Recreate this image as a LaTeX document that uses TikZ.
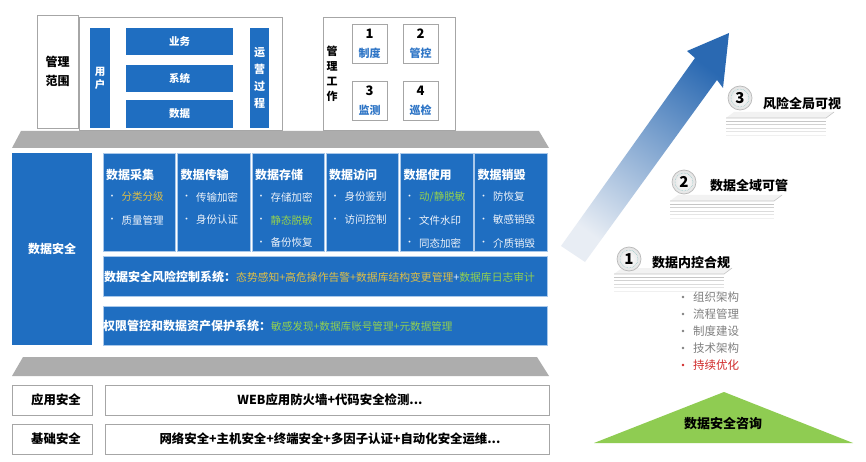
\documentclass[tikz,border=0pt]{standalone}
\usepackage{fontspec}
\setmainfont{Noto Sans CJK SC}
\usetikzlibrary{shadings}
\definecolor{mblue}{HTML}{1F6EC1}
\definecolor{lblue}{HTML}{A9C8EA}
\definecolor{bgrey}{HTML}{A6A6A6}
\definecolor{tgrey}{HTML}{ADADAD}
\definecolor{tblue}{HTML}{2E75C6}
\definecolor{iyellow}{HTML}{DDBE48}
\definecolor{igreen}{HTML}{92D050}
\definecolor{iwhite}{HTML}{EEF3FA}
\definecolor{aB}{HTML}{2A69B2}
\definecolor{aM}{HTML}{86A6D0}
\definecolor{aL}{HTML}{E8EDF4}
\definecolor{lgrey}{HTML}{808080}
\definecolor{lred}{HTML}{D02828}
\definecolor{tgreen}{HTML}{8FCC52}
\newcommand\dscol[3]{%
  \node[colbox] (#1) at (#2+36.25,202) {};
  \node[coltitle] (#1t) at (#2+3,174.5) {#3};
}
\newcommand\dsitem[5]{%
  \node[bul] (#1b) at (#2+9,#3) {·};
  \node[item,text=#4] (#1) at (#2+18.5,#3) {#5};
}
\newcommand\stepplate[3]{%
  \fill[gray!10] (#1,#2+6) -- (#1+8,#2) -- (#1+#3,#2) -- (#1+#3-8,#2+6) -- cycle;
  \draw[gray!45, line width=0.6pt] (#1,#2+6) -- (#1+#3-8,#2+6) -- (#1+#3,#2);
  \foreach \k/\o in {1/45,2/35,3/28,4/20,5/12} {
    \draw[gray!\o, line width=0.9pt] (#1,#2+6+3.4*\k) -- (#1+#3-8,#2+6+3.4*\k);
  }
}
\begin{document}
\begin{tikzpicture}[x=1pt,y=-1pt,
  bluebar/.style={fill=mblue, draw=none, inner sep=0pt, outer sep=0pt, text=white, align=center, font=\bfseries\fontsize{10.5}{13}\selectfont},
  wbox/.style={fill=white, draw=bgrey, line width=0.9pt, inner sep=0pt, outer sep=0pt, align=center},
  colbox/.style={fill=mblue, draw=lblue, line width=0.7pt, inner sep=0pt, minimum width=72.5pt, minimum height=98pt},
  coltitle/.style={anchor=west, inner sep=0pt, text=white, font=\bfseries\fontsize{12}{14}\selectfont},
  item/.style={anchor=west, inner sep=0pt, font=\fontsize{10.5}{12}\selectfont},
  bul/.style={inner sep=0pt, text=iwhite, font=\fontsize{9}{10}\selectfont},
  rowbox/.style={fill=mblue, draw=lblue, line width=0.7pt, inner sep=0pt, minimum width=444pt},
  badge/.style={circle, minimum size=24pt, inner sep=0pt, draw=gray!55, line width=0.7pt, inner color=white, outer color=gray!22, font=\bfseries\fontsize{15}{16}\selectfont},
  steplabel/.style={anchor=west, inner sep=0pt, font=\bfseries\fontsize{13}{15}\selectfont},
  listitem/.style={anchor=west, inner sep=0pt, text=lgrey, font=\fontsize{11.5}{13}\selectfont},
  boldtxt/.style={font=\bfseries\fontsize{12.4}{14}\selectfont}
]
\useasboundingbox (0,0) rectangle (866,462);
\fill[white] (0,0) rectangle (866,462);

% ---------- top: management scope ----------
\node[wbox, minimum width=41pt, minimum height=113pt, font=\bfseries\fontsize{12}{19}\selectfont] (scope) at (57.5,71.5) {管理\\范围};
\node[wbox, minimum width=203pt, minimum height=113pt] (frame) at (180.5,73.5) {};
\node[bluebar, minimum width=20pt, minimum height=100pt] (user) at (100,78) {用\\户};
\node[bluebar, minimum width=107pt, minimum height=27pt] (biz) at (179.5,41.5) {业务};
\node[bluebar, minimum width=107pt, minimum height=27pt] (sys) at (179.5,79) {系统};
\node[bluebar, minimum width=107pt, minimum height=28pt] (dat) at (179.5,114) {数据};
\node[bluebar, minimum width=19pt, minimum height=100pt, font=\bfseries\fontsize{11}{17}\selectfont] (ops) at (259.5,78) {运\\营\\过\\程};

% ---------- top: management work ----------
\node[wbox, minimum width=132pt, minimum height=113pt] (work) at (389,73.5) {};
\node[inner sep=0pt, align=center, font=\bfseries\fontsize{11}{15}\selectfont] (worklbl) at (332,74) {管\\理\\工\\作};
\foreach \n/\cx/\cy/\t in {1/369.5/43.5/制度, 2/420.5/43.5/管控, 3/369.5/100.5/监测, 4/420.5/100.5/巡检}{
  \fill[gray!25] (\cx-16.5,\cy-18.5) rectangle (\cx+18.5,\cy+20.5);
  \node[wbox, minimum width=35pt, minimum height=39pt] (w\n) at (\cx,\cy) {};
  \node[inner sep=0pt, font=\bfseries\fontsize{13}{14}\selectfont] (w\n n) at (\cx,\cy-10) {\n};
  \node[inner sep=0pt, text=tblue, font=\bfseries\fontsize{11}{13}\selectfont] (w\n t) at (\cx,\cy+9.5) {\t};
}

% ---------- grey trapezoid top ----------
\fill[tgrey] (21,131) -- (539,131) -- (549,148) -- (12,148) -- cycle;

% ---------- data security block ----------
\node[bluebar, minimum width=80pt, minimum height=192pt, font=\bfseries\fontsize{12}{14}\selectfont] (ds) at (52,249) {数据安全};

\dscol{c1}{103}{数据采集}
\dscol{c2}{177.5}{数据传输}
\dscol{c3}{252}{数据存储}
\dscol{c4}{326}{数据访问}
\dscol{c5}{400.5}{数据使用}
\dscol{c6}{474.5}{数据销毁}

\dsitem{c1a}{103}{197}{iyellow}{分类分级}
\dsitem{c1b}{103}{220}{iwhite}{质量管理}
\dsitem{c2a}{177.5}{197}{iwhite}{传输加密}
\dsitem{c2b}{177.5}{220}{iwhite}{身份认证}
\dsitem{c3a}{252}{197}{iwhite}{存储加密}
\dsitem{c3b}{252}{220}{igreen}{静态脱敏}
\dsitem{c3c}{252}{243}{iwhite}{备份恢复}
\dsitem{c4a}{326}{197}{iwhite}{身份鉴别}
\dsitem{c4b}{326}{220}{iwhite}{访问控制}
\dsitem{c5a}{400.5}{197}{igreen}{动/静脱敏}
\dsitem{c5b}{400.5}{220}{iwhite}{文件水印}
\dsitem{c5c}{400.5}{243}{iwhite}{同态加密}
\dsitem{c6a}{474.5}{197}{iwhite}{防恢复}
\dsitem{c6b}{474.5}{220}{iwhite}{敏感销毁}
\dsitem{c6c}{474.5}{243}{iwhite}{介质销毁}

\node[rowbox, minimum height=40pt] (risk) at (325,276) {};
\node[anchor=west, inner sep=0pt, text=white] (riskt) at (104,276.5)
  {{\bfseries\fontsize{12}{14}\selectfont 数据安全风险控制系统：}{\fontsize{10.8}{13}\selectfont\color{iyellow}态势感知+高危操作告警+数据库结构变更管理\color{iwhite}+\color{igreen}数据库日志审计}};
\node[rowbox, minimum height=39pt] (perm) at (325,325.5) {};
\node[anchor=west, inner sep=0pt, text=white] (permt) at (103,326)
  {{\bfseries\fontsize{12}{14}\selectfont 权限管控和数据资产保护系统：}{\fontsize{10.6}{13}\selectfont\color{igreen}敏感发现+数据库账号管理+元数据管理}};

% ---------- grey trapezoid bottom ----------
\fill[tgrey] (23,357) -- (537,357) -- (549,376) -- (12,376) -- cycle;

% ---------- app / base security ----------
\node[wbox, minimum width=80pt, minimum height=30pt, boldtxt] (app) at (52,400) {\hspace{8pt}应用安全};
\node[wbox, minimum width=444pt, minimum height=30pt, boldtxt] (appd) at (327,400) {\hspace{6pt}WEB应用防火墙+代码安全检测...};
\node[wbox, minimum width=80pt, minimum height=30pt, boldtxt] (base) at (52,439) {\hspace{8pt}基础安全};
\node[wbox, minimum width=444pt, minimum height=30pt, boldtxt] (based) at (327,439) {\hspace{6pt}网络安全+主机安全+终端安全+多因子认证+自动化安全运维...};

% ---------- rising arrow ----------
\shade[top color=aB, middle color=aM, bottom color=aL, shading angle=-36]
  (561,246) -- (695,58) -- (687,51) -- (729,33) -- (723,88) -- (717,80) -- (585,262) -- cycle;

% ---------- steps ----------
\stepplate{726}{112}{108}
\stepplate{670}{195}{112}
\stepplate{614}{268}{118}

\node[badge] (b3) at (740,98) {3};
\draw[densely dotted, teal!50, line width=0.5pt] (b3) circle (9pt);
\node[steplabel] (s3) at (763,104) {风险全局可视};

\node[badge] (b2) at (684,182) {2};
\draw[densely dotted, teal!50, line width=0.5pt] (b2) circle (9pt);
\node[steplabel] (s2) at (710,185.5) {数据全域可管};

\node[badge] (b1) at (629,259) {1};
\draw[densely dotted, teal!50, line width=0.5pt] (b1) circle (9pt);
\node[steplabel] (s1) at (652,263) {数据内控合规};

% ---------- list ----------
\foreach \i/\t/\c in {0/组织架构/lgrey, 1/流程管理/lgrey, 2/制度建设/lgrey, 3/技术架构/lgrey, 4/持续优化/lred}{
  \fill[\c] (683,297+17*\i) circle (1.3pt);
  \node[listitem, text=\c] (l\i) at (693,297+17*\i) {\t};
}

% ---------- consulting triangle ----------
\fill[tgreen] (724,392) -- (853,443) -- (594,443) -- cycle;
\node[inner sep=0pt, font=\bfseries\fontsize{13}{15}\selectfont] (consult) at (723,424) {数据安全咨询};

\end{tikzpicture}
\end{document}
